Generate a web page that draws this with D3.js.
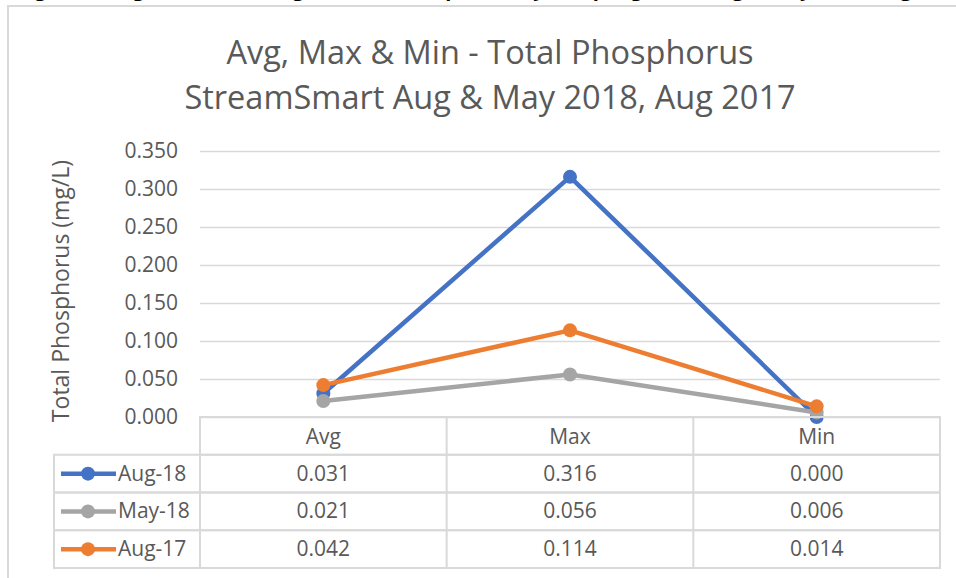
<!DOCTYPE html>
<html>
<head>
<meta charset="utf-8">
<script src="https://cdn.jsdelivr.net/npm/d3@7"></script>
<style>
  html, body { margin: 0; padding: 0; background: #fff; }
  svg { display: block; font-family: "Open Sans", sans-serif; }
</style>
</head>
<body>
<svg id="chart"></svg>
<script>
const categories = ['Avg', 'Max', 'Min'];
const seriesNames = ['Aug-18', 'May-18', 'Aug-17'];
const aug18 = [0.031, 0.316, 0.000];
const may18 = [0.021, 0.056, 0.006];
const aug17 = [0.042, 0.114, 0.014];
const yTicks = [0, 0.05, 0.1, 0.15, 0.2, 0.25, 0.3, 0.35];
const colors = ['#4472C4', '#A5A5A5', '#ED7D31'];

const series = [aug18, may18, aug17].map((v, i) => ({ name: seriesNames[i], values: v, color: colors[i] }));

const width = 956, height = 578;
const margin = { top: 151, right: 16, left: 200, bottom: 161 };
const gridColor = '#D9D9D9';
const textColor = '#595959';

const svg = d3.select('#chart').attr('width', width).attr('height', height);

// caption of the page, cut off at the top edge
svg.append('text')
  .attr('x', 490)
  .attr('y', -4)
  .attr('text-anchor', 'middle')
  .style('font-size', '20px')
  .style('font-weight', '700')
  .attr('fill', '#000')
  .text('Figure 4: Avg, Max & Min (mg/L), Total Phosphorus by Sampling Date, Aug & May 2018, Aug 2017');

// chart frame
svg.append('rect')
  .attr('x', 8).attr('y', 6)
  .attr('width', 960).attr('height', 600)
  .attr('fill', '#fff')
  .attr('stroke', gridColor)
  .attr('stroke-width', 2);

// title
const title = svg.append('text')
  .attr('text-anchor', 'middle')
  .attr('fill', textColor)
  .style('font-size', '32.5px');
title.append('tspan').attr('x', 490).attr('y', 64).text('Avg, Max & Min - Total Phosphorus');
title.append('tspan').attr('x', 490).attr('y', 109).text('StreamSmart Aug & May 2018, Aug 2017');

const x = d3.scaleBand()
  .domain(categories)
  .range([margin.left, width - margin.right]);

const y = d3.scaleLinear()
  .domain([0, 0.35])
  .range([height - margin.bottom, margin.top]);

// gridlines + tick labels
svg.append('g')
  .attr('transform', `translate(${margin.left},0)`)
  .call(d3.axisLeft(y).tickValues(yTicks).tickFormat(d3.format('.3f'))
    .tickSize(-(width - margin.left - margin.right)).tickPadding(22))
  .call(g => g.select('.domain').remove())
  .call(g => g.selectAll('line').attr('stroke', gridColor).attr('stroke-width', 1.5))
  .call(g => g.selectAll('text')
    .attr('fill', textColor)
    .style('font-size', '21px')
    .style('font-family', '"Open Sans", sans-serif'));

// y axis title
svg.append('text')
  .attr('transform', `translate(69,${(margin.top + height - margin.bottom) / 2 + 7}) rotate(-90)`)
  .attr('text-anchor', 'middle')
  .attr('fill', textColor)
  .style('font-size', '23px')
  .text('Total Phosphorus (mg/L)');

// lines
const line = d3.line()
  .x((d, i) => x(categories[i]) + x.bandwidth() / 2)
  .y(d => y(d));

const sg = svg.append('g').selectAll('g')
  .data(series)
  .join('g');

sg.append('path')
  .attr('d', d => line(d.values))
  .attr('fill', 'none')
  .attr('stroke', d => d.color)
  .attr('stroke-width', 4.5)
  .attr('stroke-linejoin', 'round');

sg.selectAll('circle')
  .data(d => d.values.map((v, i) => ({ v, i, color: d.color })))
  .join('circle')
  .attr('cx', d => x(categories[d.i]) + x.bandwidth() / 2)
  .attr('cy', d => y(d.v))
  .attr('r', 7)
  .attr('fill', d => d.color);

// data table
const rows = d3.scaleBand()
  .domain(['header', ...seriesNames])
  .range([height - margin.bottom, height - 10]);

const legendLeft = 54;
const table = svg.append('g')
  .attr('fill', 'none')
  .attr('stroke', gridColor)
  .attr('stroke-width', 2);

// header row
table.append('rect')
  .attr('x', margin.left).attr('y', rows('header'))
  .attr('width', width - margin.right - margin.left)
  .attr('height', rows.bandwidth());

// series rows
seriesNames.forEach(n => {
  table.append('rect')
    .attr('x', legendLeft).attr('y', rows(n))
    .attr('width', width - margin.right - legendLeft)
    .attr('height', rows.bandwidth());
});

// column dividers
categories.slice(1).concat(['_left']).forEach(c => {
  const cx = c === '_left' ? margin.left : x(c);
  table.append('line')
    .attr('x1', cx).attr('x2', cx)
    .attr('y1', rows('header'))
    .attr('y2', rows(seriesNames[seriesNames.length - 1]) + rows.bandwidth());
});

// header labels
svg.append('g').selectAll('text')
  .data(categories)
  .join('text')
  .attr('x', d => x(d) + x.bandwidth() / 2)
  .attr('y', rows('header') + rows.bandwidth() / 2 + 8)
  .attr('text-anchor', 'middle')
  .attr('fill', textColor)
  .style('font-size', '21px')
  .text(d => d);

// values
const fmt = d3.format('.3f');
const rowG = svg.append('g').selectAll('g')
  .data(series)
  .join('g')
  .attr('transform', d => `translate(0,${rows(d.name) + rows.bandwidth() / 2 + 7})`);

rowG.selectAll('text.val')
  .data(d => d.values)
  .join('text')
  .attr('class', 'val')
  .attr('x', (d, i) => x(categories[i]) + x.bandwidth() / 2)
  .attr('text-anchor', 'middle')
  .attr('fill', textColor)
  .style('font-size', '21px')
  .text(d => fmt(d));

// legend keys
rowG.append('line')
  .attr('x1', 61).attr('x2', 116)
  .attr('y1', -7).attr('y2', -7)
  .attr('stroke', d => d.color)
  .attr('stroke-width', 4.5);

rowG.append('circle')
  .attr('cx', 88).attr('cy', -7).attr('r', 7)
  .attr('fill', d => d.color);

rowG.append('text')
  .attr('x', 118)
  .attr('fill', textColor)
  .style('font-size', '21px')
  .text(d => d.name);
</script>
</body>
</html>
